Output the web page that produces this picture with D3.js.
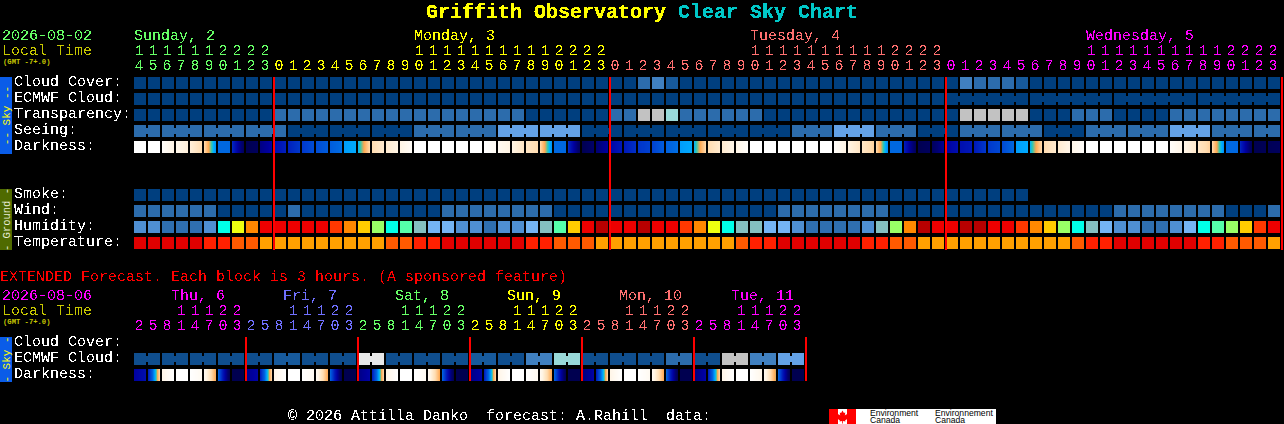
<!DOCTYPE html>
<html><head><meta charset="utf-8">
<script src="https://cdn.jsdelivr.net/npm/d3@7"></script>
<style>html,body{margin:0;padding:0;background:#000;overflow:hidden}svg{display:block}
text{font-family:"Liberation Mono",monospace;font-size:15px;white-space:pre}</style></head>
<body><svg id="c" width="1284" height="424"></svg>
<script>
// ---- main chart: one value per hourly block
const hoursMain=[14,15,16,17,18,19,20,21,22,23,0,1,2,3,4,5,6,7,8,9,10,11,12,13,14,15,16,17,18,19,20,21,22,23,0,1,2,3,4,5,6,7,8,9,10,11,12,13,14,15,16,17,18,19,20,21,22,23,0,1,2,3,4,5,6,7,8,9,10,11,12,13,14,15,16,17,18,19,20,21,22,23];
const dayOfBlock=[0,0,0,0,0,0,0,0,0,0,1,1,1,1,1,1,1,1,1,1,1,1,1,1,1,1,1,1,1,1,1,1,1,1,2,2,2,2,2,2,2,2,2,2,2,2,2,2,2,2,2,2,2,2,2,2,2,2,3,3,3,3,3,3,3,3,3,3,3,3,3,3,3,3,3,3,3,3,3,3,3,3];
const dayNames=["Sunday, 2","Monday, 3","Tuesday, 4","Wednesday, 5"];
const dayNameBlock=[0,20,44,68];
const dayColors=["#66ff66","#ffff00","#ff7070","#ff00ff"];
const dayBoundaries=[10,34,58,82];
const skyColors=["#003f7f","#0f4e8e","#175a9c","#2c6cac","#4080c0","#63a1e6","#99d9d9","#c2c2c2","#e8e8e8"];
const cloudCover=[0,0,0,0,0,0,0,0,0,0,0,0,0,0,0,0,0,0,0,0,0,0,0,0,0,0,0,0,0,0,0,0,0,0,0,0,3,4,2,0,0,0,0,0,0,0,0,0,0,0,0,0,0,0,0,0,0,0,0,4,3,3,3,2,0,0,0,0,0,0,0,0,0,0,0,0,0,0,0,0,0,0];
const ecmwfCloud=[0,0,0,0,0,0,0,0,0,0,0,0,0,0,0,0,0,0,0,0,0,0,0,0,0,0,0,0,0,0,0,0,0,0,0,0,0,0,0,0,0,0,0,0,0,0,0,0,0,0,0,0,0,0,0,0,0,0,0,0,0,0,0,0,0,0,0,0,0,0,0,0,0,0,0,0,0,0,0,0,0,0];
const ecmwfSpans=[1,1,1,1,1,1,1,1,1,1,1,1,1,1,1,1,1,1,1,1,1,1,1,1,1,1,1,1,1,1,1,1,1,1,1,1,1,1,1,1,1,1,1,1,1,1,1,1,1,1,1,1,1,1,1,1,1,1,6,6,6,6];
const transparency=[0,0,0,0,0,0,0,0,0,0,3,3,3,3,3,3,3,3,3,3,3,3,3,3,3,3,3,3,0,0,0,0,0,0,3,3,7,7,6,3,3,3,3,3,3,0,0,0,0,0,0,0,0,0,0,0,0,0,0,7,7,7,7,7,0,0,0,3,3,3,0,0,0,0,3,3,3,3,3,3,3,3];
const seeing=[3,3,3,3,3,3,3,3,3,3,3,0,0,0,0,0,0,0,0,0,3,3,3,3,3,3,5,5,5,5,5,5,0,0,0,0,0,0,0,0,0,0,0,0,0,0,0,3,3,3,5,5,5,3,3,3,0,0,0,3,3,3,3,3,3,0,0,0,3,3,3,3,3,3,5,5,5,3,3,3,3,3];
const seeingSpans=[2,3,3,3,3,3,3,3,3,3,3,3,3,3,3,3,3,3,3,3,3,3,3,3,3,3,3,2];
const smoke=[0,0,0,0,0,0,0,0,0,0,0,0,0,0,0,0,0,0,0,0,0,0,0,0,0,0,0,0,0,0,0,0,0,0,0,0,0,0,0,0,0,0,0,0,0,0,0,0,0,0,0,0,0,0,0,0,0,0,0,0,0,0,0,0];
const wind=[3,3,3,3,3,3,0,0,0,0,0,3,0,0,0,0,0,0,0,0,0,0,3,3,3,3,3,3,3,3,0,0,0,0,0,0,0,0,0,0,0,0,0,0,0,0,3,3,3,3,3,3,3,3,0,0,0,0,0,0,0,0,0,0,0,0,0,0,0,0,3,3,3,3,3,3,3,3,0,0,0,3];
const humidityColors=["#b80000","#ee0000","#ff3800","#ff8800","#ffcc00","#eeff10","#99ff66","#55ffaa","#00ffe8","#84c0c0","#74b4f4","#4f8fd2","#2f6fb0"];
const humidity=[11,11,12,12,12,11,8,5,3,1,1,1,1,1,2,3,4,6,8,7,9,10,10,11,11,12,11,11,10,9,7,4,1,0,1,1,0,1,1,2,3,5,8,9,9,10,10,11,12,12,12,12,11,9,6,3,0,1,1,0,0,1,1,2,3,4,6,8,9,10,11,11,12,12,11,10,8,7,6,4,2,1];
const tempColors=["#e00000","#ff2000","#ff5a00","#ffa000"];
const temperature=[0,0,0,0,0,1,1,2,2,3,3,3,3,3,3,3,3,3,2,2,1,1,0,0,0,0,0,0,1,1,2,2,2,3,3,3,3,3,3,3,3,3,3,2,1,1,0,0,0,0,0,0,1,1,2,2,3,3,3,3,3,3,3,3,3,3,3,2,1,1,0,0,0,0,0,0,1,1,2,2,2,3];
// darkness: sky level at the start and end of each block (0 daylight, 10 full night)
const darkStops=[0,1,2,3,3.6,4,4.5,5,6,7,8,9,10];
const darkColors=["#ffffff","#fff4e4","#ffdcb0","#ffa850","#30c8b0","#00b0ff","#0090f8","#0068e0","#0040d0","#0018b8","#0000a0","#000070","#000050"];
const darkStart=[0,0,0.2,0.8,1.2,2,5,6.5,10,8.6,7.4,6.8,6.2,5.7,5.3,4.3,4,2,1.4,1,0,0,0,0,0,0,0.5,1,1.6,2,5,6.5,10,9,7.8,7,6.3,6,5.2,4.3,4,2,1.4,0.9,0,0,0,0,0,0,0.2,1,1.6,2,5,6.8,10,9.6,8,7.4,7,6.2,5.8,4.3,4,2,1.4,0.8,0,0,0,0,0,0,0.2,0.9,1.6,2,5,6.6,10,9.8];
const darkEnd  =[0,0,1,1.2,2,4.5,5,9.6,9.6,7.8,6.8,6.2,5.7,5.3,4.9,4.1,2,1.4,1,0.3,0,0,0,0,0,0.4,1,1.6,2,4.5,5,9.6,9.2,8,7,6.4,6,5.3,4.9,4.1,2,1.4,0.9,0.2,0,0,0,0,0,0,1,1.6,2.2,4.6,5,9.7,9.6,8.2,7.4,7,6.2,5.8,5,4.1,2,1.4,0.9,0.2,0,0,0,0,0,0,0.9,1.5,2.2,4.5,5,9.7,9.8,9.6];
// ---- extended chart: 3-hour blocks
const hoursExt=[2,5,8,11,14,17,20,23,2,5,8,11,14,17,20,23,2,5,8,11,14,17,20,23,2,5,8,11,14,17,20,23,2,5,8,11,14,17,20,23,2,5,8,11,14,17,20,23];
const extDayNames=["Thu, 6","Fri, 7","Sat, 8","Sun, 9","Mon, 10","Tue, 11"];
const extDayColors=["#ff00ff","#7070ff","#66ff66","#ffff00","#ff7070","#ff00ff"];
const extDayOfBlock=[0,0,0,0,0,0,0,0,1,1,1,1,1,1,1,1,2,2,2,2,2,2,2,2,3,3,3,3,3,3,3,3,4,4,4,4,4,4,4,4,5,5,5,5,5,5,5,5];
const extEcmwf=[1,1,1,1,1,1,1,1,1,1,2,2,1,1,1,1,8,8,1,1,1,1,1,1,2,2,1,1,4,4,6,6,1,1,1,1,1,1,3,3,1,1,7,7,4,4,5,5];
const extSpans=[2,2,2,2,2,2,2,2,2,2,2,2,2,2,2,2,2,2,2,2,2,2,2,2];
const extBoundaries=[8,16,24,32,40,48];
const extDarkStart=[8,7,0.9,0,0,0.5,5,10,8.4,7,0.9,0,0,0.5,5,10,8.6,7,0.9,0,0,0.5,5,10,8.6,7,0.9,0,0,0.5,5,10,8.8,7,0.9,0,0,0.5,5,10,8.8,7,0.9,0,0,0.5,5,10];
const extDarkEnd  =[7.4,2,0,0,0.5,3,10,10,7.8,2,0,0,0.5,3,10,10,7.8,2,0,0,0.5,3,10,10,7.8,2,0,0,0.5,3,10,10,7.8,2,0,0,0.5,3,10,10,7.8,2,0,0,0.8,3.2,10,10];
const mainRowLabels=["Cloud Cover:","ECMWF Cloud:","Transparency:","Seeing:","Darkness:"];
const groundRowLabels=["Smoke:","Wind:","Humidity:","Temperature:"];
const extRowLabels=["Cloud Cover:","ECMWF Cloud:","Darkness:"];

const svg=d3.select("#c");
const defs=svg.append("defs");
function thresh(id,table){
  const f=defs.append("filter").attr("id",id).attr("filterUnits","userSpaceOnUse")
    .attr("x",0).attr("y",0).attr("width",1284).attr("height",424);
  f.append("feComponentTransfer").append("feFuncA").attr("type","discrete").attr("tableValues",table);
}
thresh("crisp","0 0 0 1 1 1");
thresh("heavy","0 0 1 1 1 1");
const root=svg.append("g");
const textG=svg.append("g").attr("filter","url(#crisp)");
const heavyG=svg.append("g").attr("filter","url(#heavy)");

const CELL=12;
const xMain=d3.scaleLinear().domain([0,82]).range([134,1282]);
const xExt=d3.scaleLinear().domain([0,48]).range([134,806]);
const yMain=d3.scaleLinear().domain([0,1]).range([77,93]);      // row index -> top
const yGround=d3.scaleLinear().domain([0,1]).range([189,205]);
const yExt=d3.scaleLinear().domain([0,1]).range([337,353]);
const skyScale=d3.scaleOrdinal().domain(d3.range(skyColors.length)).range(skyColors);
const humScale=d3.scaleOrdinal().domain(d3.range(humidityColors.length)).range(humidityColors);
const tempScale=d3.scaleOrdinal().domain(d3.range(tempColors.length)).range(tempColors);
const darkScale=d3.scaleLinear().domain(darkStops).range(darkColors).clamp(true);

function blocks(x,top,vals,color,spans){
  const g=root.append("g");
  g.selectAll("rect.b").data(vals).join("rect").attr("class","b")
    .attr("x",(d,i)=>x(i)).attr("y",top).attr("width",CELL).attr("height",CELL).attr("fill",d=>color(d));
  if(spans){
    const inner=[];let s=0;
    spans.forEach(n=>{d3.range(s,s+n-1).forEach(i=>inner.push(i));s+=n;});
    g.selectAll("rect.j").data(inner).join("rect").attr("class","j")
      .attr("x",i=>x(i)+CELL).attr("y",top+3).attr("width",2).attr("height",6).attr("fill",i=>color(vals[i]));
  }
}
function dark(x,top,st,en){
  const g=root.append("g");
  st.forEach((s,i)=>{
    const t=d3.scaleLinear().domain([0,CELL]).range([s,en[i]]);
    g.selectAll(null).data(d3.range(CELL)).join("rect")
      .attr("x",p=>x(i)+p).attr("y",top).attr("width",1).attr("height",CELL)
      .attr("fill",p=>darkScale(t(p+0.5)));
  });
}
function txt(x,y,s,fill,attrs,parent){
  const n=(parent||textG).append("text").attr("x",x).attr("y",y).attr("fill",fill).text(s);
  if(attrs)Object.entries(attrs).forEach(([k,v])=>n.style(k,v));
  return n;
}
function lines(x,bd,top,bottom){
  root.selectAll(null).data(bd).join("rect").attr("x",d=>x(d)-1).attr("y",top).attr("width",2).attr("height",bottom-top).attr("fill","#f00");
}
function sidebar(top,h,fill,s,color,fs){
  root.append("rect").attr("x",0).attr("y",top).attr("width",12).attr("height",h).attr("fill",fill);
  svg.append("text").attr("transform",`translate(9.5,${top+h/2}) rotate(-90)`).attr("text-anchor","middle")
    .attr("fill",color).style("font-size",fs+"px").text(s);
}

// title
const title=heavyG.append("text").attr("x",426).attr("y",18).style("font-size","20px").style("font-weight","bold");
title.append("tspan").attr("fill","#ffff00").text("Griffith Observatory ");
title.append("tspan").attr("fill","#00c8c8").text("Clear Sky Chart");

const small={"font-size":"7.2px","font-weight":"bold"};
// main header
txt(2,40,"2026-08-02","#66ff66");
txt(2,55,"Local Time","#c8c800");
txt(3,64,"(GMT -7+.0)","#c8c800",small,svg);
dayNames.forEach((n,i)=>txt(xMain(dayNameBlock[i]),40,n,dayColors[i]));
hoursMain.forEach((h,i)=>{
  const c=dayColors[dayOfBlock[i]], cx=xMain(i)+CELL/2-1;
  if(h>=10) txt(cx,55,String(Math.floor(h/10)),c).attr("text-anchor","middle");
  txt(cx,70,String(h%10),c).attr("text-anchor","middle");
});
// main rows
blocks(xMain,yMain(0),cloudCover,skyScale);
blocks(xMain,yMain(1),ecmwfCloud,skyScale,ecmwfSpans);
blocks(xMain,yMain(2),transparency,skyScale);
blocks(xMain,yMain(3),seeing,skyScale,seeingSpans);
dark(xMain,yMain(4),darkStart,darkEnd);
blocks(xMain,yGround(0),smoke,skyScale);
blocks(xMain,yGround(1),wind,skyScale);
blocks(xMain,yGround(2),humidity,humScale);
blocks(xMain,yGround(3),temperature,tempScale);
lines(xMain,dayBoundaries,77,250);
mainRowLabels.forEach((s,i)=>txt(14,yMain(i)+9,s,"#fff"));
groundRowLabels.forEach((s,i)=>txt(14,yGround(i)+9,s,"#fff"));
sidebar(77,77,"#0a5ce8","-- Sky --","#ffff00",11);
sidebar(189,61,"#4f6a00","- Ground -","#e8ecd8",10.5);

// extended
txt(0,281,"EXTENDED Forecast. Each block is 3 hours. (A sponsored feature)","#f00");
txt(2,300,"2026-08-06","#ff00ff");
txt(2,315,"Local Time","#c8c800");
txt(3,324,"(GMT -7+.0)","#c8c800",small,svg);
extDayNames.forEach((n,i)=>txt(xExt(i*8)+37,300,n,extDayColors[i]));
hoursExt.forEach((h,i)=>{
  const c=extDayColors[extDayOfBlock[i]], cx=xExt(i)+CELL/2-1;
  if(h>=10) txt(cx,315,String(Math.floor(h/10)),c).attr("text-anchor","middle");
  txt(cx,330,String(h%10),c).attr("text-anchor","middle");
});
blocks(xExt,yExt(1),extEcmwf,skyScale,extSpans);
dark(xExt,yExt(2),extDarkStart,extDarkEnd);
lines(xExt,extBoundaries,337,381);
extRowLabels.forEach((s,i)=>txt(14,yExt(i)+9,s,"#fff"));
sidebar(337,45,"#0a5ce8","- Sky -","#ffff00",11);

// footer
txt(288,420,"\u00a9 2026 Attilla Danko  forecast: A.Rahill  data:","#fff");
root.append("rect").attr("x",829).attr("y",409).attr("width",167).attr("height",15).attr("fill","#fff");
root.append("rect").attr("x",829).attr("y",409).attr("width",9).attr("height",15).attr("fill","#f00");
root.append("rect").attr("x",847).attr("y",409).attr("width",9).attr("height",15).attr("fill","#f00");
root.append("path").attr("transform","translate(842.5,416.5)").attr("fill","#f00")
  .attr("d","M0,-6 L1.4,-3.4 L2.8,-4 L2.3,-1 L4,-2.4 L4.6,-1.1 L6,-1.3 L5.3,1 L6,1.6 L2.6,4 L3,5 L0.4,4.6 L0.4,7 L-0.4,7 L-0.4,4.6 L-3,5 L-2.6,4 L-6,1.6 L-5.3,1 L-6,-1.3 L-4.6,-1.1 L-4,-2.4 L-2.3,-1 L-2.8,-4 L-1.4,-3.4 Z");
const sans={"font-family":"'Liberation Sans',sans-serif","font-size":"8.6px"};
[[870,"Environment"],[935,"Environnement"]].forEach(([x,s])=>{
  txt(x,415.5,s,"#000",sans,svg);
  txt(x,423,"Canada","#000",sans,svg);
});
</script></body></html>
